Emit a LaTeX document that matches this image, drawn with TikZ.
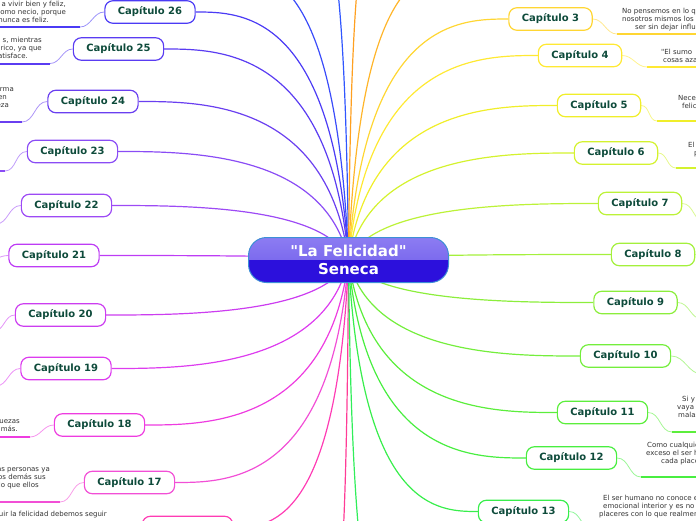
\documentclass[tikz,border=0pt]{standalone}
\usepackage{fontspec}
\setmainfont{DejaVu Sans}
\usetikzlibrary{calc,backgrounds}

\definecolor{k1}{HTML}{FFA020}
\definecolor{k2}{HTML}{FFB52A}
\definecolor{k3}{HTML}{FFD633}
\definecolor{k4}{HTML}{FFE933}
\definecolor{k5}{HTML}{F0EE2A}
\definecolor{k6}{HTML}{D4F22E}
\definecolor{k7}{HTML}{BCF238}
\definecolor{k8}{HTML}{A4F03C}
\definecolor{k9}{HTML}{8CEE3C}
\definecolor{k10}{HTML}{74EE3C}
\definecolor{k11}{HTML}{5CEE3C}
\definecolor{k12}{HTML}{48EE40}
\definecolor{k13}{HTML}{38EE4C}
\definecolor{k14}{HTML}{30EE5A}
\definecolor{k15}{HTML}{FF3C96}
\definecolor{k16}{HTML}{FF3CB4}
\definecolor{k17}{HTML}{F24FD6}
\definecolor{k18}{HTML}{EE3CE0}
\definecolor{k19}{HTML}{DD3CEF}
\definecolor{k20}{HTML}{CC3DF0}
\definecolor{k21}{HTML}{BD3CF5}
\definecolor{k22}{HTML}{9D4AF5}
\definecolor{k23}{HTML}{8A4CF5}
\definecolor{k24}{HTML}{6A3FF0}
\definecolor{k25}{HTML}{5A3CF2}
\definecolor{k26}{HTML}{4B3BF5}
\definecolor{k27}{HTML}{3A4CFA}
\definecolor{k28}{HTML}{3056FF}
\definecolor{chaptext}{HTML}{0E4B3B}
\definecolor{desctext}{HTML}{333333}
\definecolor{rootA}{HTML}{8C7CF2}
\definecolor{rootB}{HTML}{6C59EA}
\definecolor{rootC}{HTML}{2C10DC}
\definecolor{rootborder}{HTML}{3D8FD6}

% fonts without the TeX quote mapping, for straight double quotes
\font\rootqfont="DejaVu Sans/B" at 15pt
\font\descqfont="DejaVu Sans" at 7pt
\newcommand\rootquote{{\rootqfont\char34}}
\newcommand\descquote{{\descqfont\char34}}

\tikzset{
  chap/.style={draw=#1, line width=1.2pt, fill=white, rounded corners=8pt,
    minimum height=22.5pt, inner xsep=13pt, inner ysep=0pt,
    font=\bfseries\fontsize{10}{12}\selectfont, text=chaptext},
  desc/.style={inner sep=0pt, font=\fontsize{7}{8.4}\selectfont, text=desctext},
  mainline/.style={draw=#1, line width=1.2pt},
  sline/.style={draw=#1!55!white, line width=0.8pt},
  uline/.style={draw=#1, line width=2pt},
  rootbox/.style={draw=rootborder, line width=1pt, rounded corners=18pt,
    minimum width=200pt, minimum height=45pt, align=center, text=white,
    font=\bfseries\fontsize{15}{18}\selectfont,
    path picture={
      \fill[sharp corners, top color=rootA, bottom color=rootB]
        (path picture bounding box.north west) rectangle (path picture bounding box.east);
      \fill[sharp corners, rootC]
        (path picture bounding box.west) rectangle (path picture bounding box.south east);
    }},
}

\newcommand\mainlink[2]{\draw[mainline=#1] let \p1=(root.center), \p2=(#2) in
  (\p1) .. controls ({\x1+0.1*(\x2-\x1)},\y2) and ({\x2-0.3*(\x2-\x1)},\y2) .. (\p2);}

\begin{document}
\begin{tikzpicture}[x=1pt,y=-1pt]
\useasboundingbox (0,0) rectangle (696,520);
\clip (0,0) rectangle (696,520);

% root
\node[rootbox] (root) at (348.5,260) {\rootquote La Felicidad\rootquote\\Seneca};

% left chapters
\node[chap=k26] (c26) at (150,12) {Capítulo 26};
\node[chap=k25] (c25) at (118.5,49) {Capítulo 25};
\node[chap=k24] (c24) at (93,101.5) {Capítulo 24};
\node[chap=k23] (c23) at (72.5,151.5) {Capítulo 23};
\node[chap=k22] (c22) at (66.5,205.5) {Capítulo 22};
\node[chap=k21] (c21) at (54,255.5) {Capítulo 21};
\node[chap=k20] (c20) at (60.5,315) {Capítulo 20};
\node[chap=k19] (c19) at (66,368.5) {Capítulo 19};
\node[chap=k18] (c18) at (99.5,425) {Capítulo 18};
\node[chap=k17] (c17) at (129.5,482.5) {Capítulo 17};
\node[chap=k16] (c16) at (187.5,527.5) {Capítulo 16};

% right chapters
\node[chap=k3] (c3) at (550.5,19) {Capítulo 3};
\node[chap=k4] (c4) at (580,55.5) {Capítulo 4};
\node[chap=k5] (c5) at (599,105.5) {Capítulo 5};
\node[chap=k6] (c6) at (616,153) {Capítulo 6};
\node[chap=k7] (c7) at (640,203.5) {Capítulo 7};
\node[chap=k8] (c8) at (653,254.5) {Capítulo 8};
\node[chap=k9] (c9) at (635.5,302.5) {Capítulo 9};
\node[chap=k10] (c10) at (625.5,356) {Capítulo 10};
\node[chap=k11] (c11) at (602.5,412.5) {Capítulo 11};
\node[chap=k12] (c12) at (571.5,458) {Capítulo 12};
\node[chap=k13] (c13) at (523.5,511.5) {Capítulo 13};

% off-canvas ends
\coordinate (e27) at (230,-30);
\coordinate (e28) at (315,-80);
\coordinate (e1) at (375,-80);
\coordinate (e2) at (459,-30);
\coordinate (e14) at (385,620);
\coordinate (e15) at (330,620);

% underline ends
\coordinate (u26) at (80,27);
\coordinate (u25) at (50,63.5);
\coordinate (u24) at (22,122);
\coordinate (u23) at (5,171);
\coordinate (u22) at (-4,224);
\coordinate (u21) at (-16,262);
\coordinate (u20) at (-6,331);
\coordinate (u19) at (-4,386);
\coordinate (u18) at (30,437);
\coordinate (u17) at (60,502);
\coordinate (u16) at (118,548);
\coordinate (u3) at (617,34);
\coordinate (u4) at (647,67);
\coordinate (u5) at (657,121);
\coordinate (u6) at (676,168);
\coordinate (u7) at (705,222);
\coordinate (u8) at (725,272);
\coordinate (u9) at (702,319);
\coordinate (u10) at (702,374);
\coordinate (u11) at (672,432);
\coordinate (u12) at (641,477);
\coordinate (u13) at (593,530);

% texts, left
\node[desc, align=right, anchor=north east] (t26) at (66,0) {\strut a vivir bien y feliz,\\como necio, porque\\nunca es feliz.\makebox[17pt]{}};
\node[desc, align=right, anchor=north east] (t25) at (42,36) {\strut s, mientras\\rico, ya que\\atisface.\makebox[14pt]{}};
\node[desc, align=right, anchor=north east] (t24) at (14,85) {\strut rma\\en\makebox[7pt]{}\\eza\makebox[5pt]{}};
\node[desc, align=right, anchor=north east] (t18) at (20,417) {\strut uezas\\más.\makebox[2pt]{}};
\node[desc, align=right, anchor=north east] (t17) at (50,465) {\strut as personas ya\\os demás sus\makebox[4pt]{}\\lo que ellos\makebox[11pt]{}};
\node[desc, align=right, anchor=north east] (t16) at (107,510.6) {\strut uir la felicidad debemos seguir};

% texts, right
\node[desc, align=left, anchor=north west] (t3) at (622,7) {\strut No pensemos en lo q\\nosotros mismos los\\\makebox[13pt]{}ser sin dejar influ};
\node[desc, align=left, anchor=north west] (t4) at (661,48) {\strut\descquote El sumo\\\makebox[2pt]{}cosas aza};
\node[desc, align=left, anchor=north west] (t5) at (678,94) {\strut Nece\\\makebox[4pt]{}felic};
\node[desc, align=left, anchor=north west] (t6) at (688,141) {\strut El\\\makebox[6pt]{}p};
\node[desc, align=left, anchor=north west] (t11) at (677,395) {\strut\makebox[5pt]{}Si y\\vaya\\\makebox[1pt]{}malas};
\node[desc, align=left, anchor=north west] (t12) at (646,441) {\strut\makebox[1pt]{}Como cualquie\\exceso el ser h\\\makebox[15pt]{}cada place};
\node[desc, align=left, anchor=north west] (t13) at (599,494) {\strut\makebox[4pt]{}El ser humano no conoce e\\\makebox[4pt]{}emocional interior y es no\\placeres con lo que realmen};

\begin{pgfonlayer}{background}
\begin{scope}
\clip (0,0) rectangle (696,520);
% main connectors
\mainlink{k28}{e28}
\mainlink{k27}{e27}
\mainlink{k26}{c26.east}
\mainlink{k25}{c25.east}
\mainlink{k24}{c24.east}
\mainlink{k23}{c23.east}
\mainlink{k22}{c22.east}
\mainlink{k21}{c21.east}
\mainlink{k20}{c20.east}
\mainlink{k19}{c19.east}
\mainlink{k18}{c18.east}
\mainlink{k17}{c17.east}
\mainlink{k16}{c16.east}
\mainlink{k15}{e15}
\mainlink{k14}{e14}
\mainlink{k1}{e1}
\mainlink{k2}{e2}
\mainlink{k3}{c3.west}
\mainlink{k4}{c4.west}
\mainlink{k5}{c5.west}
\mainlink{k6}{c6.west}
\mainlink{k7}{c7.west}
\mainlink{k8}{c8.west}
\mainlink{k9}{c9.west}
\mainlink{k10}{c10.west}
\mainlink{k11}{c11.west}
\mainlink{k12}{c12.west}
\mainlink{k13}{c13.west}
% small connectors, left
\foreach \n in {26,25,24,23,22,21,20,19,18,17,16}{
  \draw[sline=k\n] (c\n.west) to[out=180,in=0] (u\n);
  \draw[uline=k\n] (u\n) -- ++(-160,0);
}
% small connectors, right
\foreach \n in {3,4,5,6,7,8,9,10,11,12,13}{
  \draw[sline=k\n] (c\n.east) to[out=0,in=180] (u\n);
  \draw[uline=k\n] (u\n) -- ++(160,0);
}
\end{scope}
\end{pgfonlayer}
\end{tikzpicture}
\end{document}
